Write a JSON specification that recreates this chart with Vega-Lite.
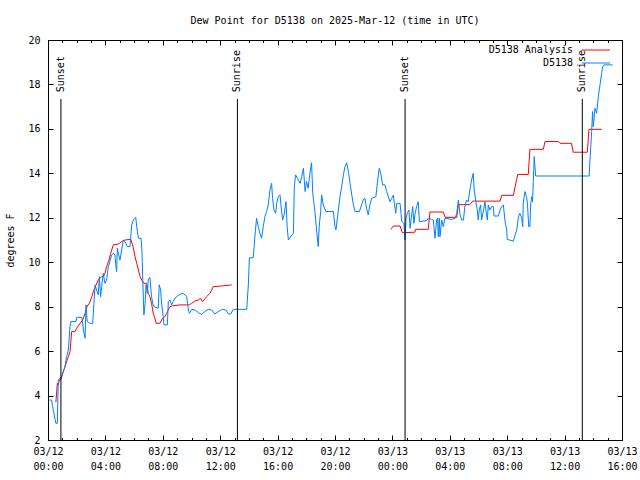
{
  "$schema": "https://vega.github.io/schema/vega-lite/v6.json",
  "width": 574,
  "height": 400,
  "autosize": {"type": "none"},
  "padding": {"left": 48, "top": 40, "right": 18, "bottom": 40},
  "background": "white",
  "title": {"text": "Dew Point for D5138 on 2025-Mar-12 (time in UTC)", "font": "DejaVu Sans Mono", "fontSize": 10, "fontWeight": "normal", "color": "black", "anchor": "middle", "offset": 9},
  "config": {
    "view": {"stroke": "black", "strokeWidth": 1},
    "axis": {"labelFont": "DejaVu Sans Mono", "labelFontSize": 10, "labelColor": "black", "tickColor": "black", "tickWidth": 1, "domain": false, "grid": false, "titleFont": "DejaVu Sans Mono", "titleFontSize": 10, "titleFontWeight": "normal", "titleColor": "black", "labelFlush": false, "labelOverlap": false}
  },
  "datasets": {
    "analysis": [
      {"part": 1, "time": "2025-03-12T00:33:00Z", "dewpoint": 3.7},
      {"part": 1, "time": "2025-03-12T00:39:00Z", "dewpoint": 4.55},
      {"part": 1, "time": "2025-03-12T00:43:00Z", "dewpoint": 4.48},
      {"part": 1, "time": "2025-03-12T00:47:00Z", "dewpoint": 4.7},
      {"part": 1, "time": "2025-03-12T00:53:00Z", "dewpoint": 4.7},
      {"part": 1, "time": "2025-03-12T00:57:00Z", "dewpoint": 4.85},
      {"part": 1, "time": "2025-03-12T01:04:00Z", "dewpoint": 5.08},
      {"part": 1, "time": "2025-03-12T01:11:00Z", "dewpoint": 5.3},
      {"part": 1, "time": "2025-03-12T01:18:00Z", "dewpoint": 5.53},
      {"part": 1, "time": "2025-03-12T01:25:00Z", "dewpoint": 5.75},
      {"part": 1, "time": "2025-03-12T01:32:00Z", "dewpoint": 5.98},
      {"part": 1, "time": "2025-03-12T01:39:00Z", "dewpoint": 6.88},
      {"part": 1, "time": "2025-03-12T01:53:00Z", "dewpoint": 6.88},
      {"part": 1, "time": "2025-03-12T02:00:00Z", "dewpoint": 7.03},
      {"part": 1, "time": "2025-03-12T02:14:00Z", "dewpoint": 7.25},
      {"part": 1, "time": "2025-03-12T02:25:00Z", "dewpoint": 7.4},
      {"part": 1, "time": "2025-03-12T02:35:00Z", "dewpoint": 7.7},
      {"part": 1, "time": "2025-03-12T02:44:00Z", "dewpoint": 8.03},
      {"part": 1, "time": "2025-03-12T02:53:00Z", "dewpoint": 8.15},
      {"part": 1, "time": "2025-03-12T03:03:00Z", "dewpoint": 8.45},
      {"part": 1, "time": "2025-03-12T03:12:00Z", "dewpoint": 8.75},
      {"part": 1, "time": "2025-03-12T03:21:00Z", "dewpoint": 8.98},
      {"part": 1, "time": "2025-03-12T03:30:00Z", "dewpoint": 9.2},
      {"part": 1, "time": "2025-03-12T03:44:00Z", "dewpoint": 9.35},
      {"part": 1, "time": "2025-03-12T03:51:00Z", "dewpoint": 9.35},
      {"part": 1, "time": "2025-03-12T03:58:00Z", "dewpoint": 9.5},
      {"part": 1, "time": "2025-03-12T04:05:00Z", "dewpoint": 9.8},
      {"part": 1, "time": "2025-03-12T04:15:00Z", "dewpoint": 10.1},
      {"part": 1, "time": "2025-03-12T04:22:00Z", "dewpoint": 10.4},
      {"part": 1, "time": "2025-03-12T04:33:00Z", "dewpoint": 10.78},
      {"part": 1, "time": "2025-03-12T04:54:00Z", "dewpoint": 10.82},
      {"part": 1, "time": "2025-03-12T05:08:00Z", "dewpoint": 10.93},
      {"part": 1, "time": "2025-03-12T05:22:00Z", "dewpoint": 11.0},
      {"part": 1, "time": "2025-03-12T05:46:00Z", "dewpoint": 11.03},
      {"part": 1, "time": "2025-03-12T05:54:00Z", "dewpoint": 10.78},
      {"part": 1, "time": "2025-03-12T06:04:00Z", "dewpoint": 10.25},
      {"part": 1, "time": "2025-03-12T06:11:00Z", "dewpoint": 9.95},
      {"part": 1, "time": "2025-03-12T06:18:00Z", "dewpoint": 9.65},
      {"part": 1, "time": "2025-03-12T06:25:00Z", "dewpoint": 9.35},
      {"part": 1, "time": "2025-03-12T06:32:00Z", "dewpoint": 9.2},
      {"part": 1, "time": "2025-03-12T06:41:00Z", "dewpoint": 9.05},
      {"part": 1, "time": "2025-03-12T06:53:00Z", "dewpoint": 9.05},
      {"part": 1, "time": "2025-03-12T06:59:00Z", "dewpoint": 8.6},
      {"part": 1, "time": "2025-03-12T07:06:00Z", "dewpoint": 8.45},
      {"part": 1, "time": "2025-03-12T07:13:00Z", "dewpoint": 8.15},
      {"part": 1, "time": "2025-03-12T07:20:00Z", "dewpoint": 7.7},
      {"part": 1, "time": "2025-03-12T07:27:00Z", "dewpoint": 7.48},
      {"part": 1, "time": "2025-03-12T07:32:00Z", "dewpoint": 7.25},
      {"part": 1, "time": "2025-03-12T07:48:00Z", "dewpoint": 7.25},
      {"part": 1, "time": "2025-03-12T07:59:00Z", "dewpoint": 7.48},
      {"part": 1, "time": "2025-03-12T08:09:00Z", "dewpoint": 7.55},
      {"part": 1, "time": "2025-03-12T08:16:00Z", "dewpoint": 7.7},
      {"part": 1, "time": "2025-03-12T08:23:00Z", "dewpoint": 7.85},
      {"part": 1, "time": "2025-03-12T08:30:00Z", "dewpoint": 8.0},
      {"part": 1, "time": "2025-03-12T08:37:00Z", "dewpoint": 8.03},
      {"part": 1, "time": "2025-03-12T09:12:00Z", "dewpoint": 8.08},
      {"part": 1, "time": "2025-03-12T09:51:00Z", "dewpoint": 8.08},
      {"part": 1, "time": "2025-03-12T10:01:00Z", "dewpoint": 8.15},
      {"part": 1, "time": "2025-03-12T10:15:00Z", "dewpoint": 8.26},
      {"part": 1, "time": "2025-03-12T10:29:00Z", "dewpoint": 8.3},
      {"part": 1, "time": "2025-03-12T10:38:00Z", "dewpoint": 8.38},
      {"part": 1, "time": "2025-03-12T10:45:00Z", "dewpoint": 8.23},
      {"part": 1, "time": "2025-03-12T10:52:00Z", "dewpoint": 8.3},
      {"part": 1, "time": "2025-03-12T11:03:00Z", "dewpoint": 8.45},
      {"part": 1, "time": "2025-03-12T11:17:00Z", "dewpoint": 8.6},
      {"part": 1, "time": "2025-03-12T11:24:00Z", "dewpoint": 8.75},
      {"part": 1, "time": "2025-03-12T11:31:00Z", "dewpoint": 8.9},
      {"part": 1, "time": "2025-03-12T12:06:00Z", "dewpoint": 8.93},
      {"part": 1, "time": "2025-03-12T12:48:00Z", "dewpoint": 8.98},
      {"part": 2, "time": "2025-03-12T23:54:00Z", "dewpoint": 11.48},
      {"part": 2, "time": "2025-03-13T00:04:00Z", "dewpoint": 11.63},
      {"part": 2, "time": "2025-03-13T00:32:00Z", "dewpoint": 11.63},
      {"part": 2, "time": "2025-03-13T00:41:00Z", "dewpoint": 11.33},
      {"part": 2, "time": "2025-03-13T01:34:00Z", "dewpoint": 11.35},
      {"part": 2, "time": "2025-03-13T01:37:00Z", "dewpoint": 11.48},
      {"part": 2, "time": "2025-03-13T02:30:00Z", "dewpoint": 11.48},
      {"part": 2, "time": "2025-03-13T02:37:00Z", "dewpoint": 12.26},
      {"part": 2, "time": "2025-03-13T03:33:00Z", "dewpoint": 12.26},
      {"part": 2, "time": "2025-03-13T03:40:00Z", "dewpoint": 12.02},
      {"part": 2, "time": "2025-03-13T04:29:00Z", "dewpoint": 12.02},
      {"part": 2, "time": "2025-03-13T04:36:00Z", "dewpoint": 12.59},
      {"part": 2, "time": "2025-03-13T05:24:00Z", "dewpoint": 12.59},
      {"part": 2, "time": "2025-03-13T05:36:00Z", "dewpoint": 12.75},
      {"part": 2, "time": "2025-03-13T07:30:00Z", "dewpoint": 12.75},
      {"part": 2, "time": "2025-03-13T07:37:00Z", "dewpoint": 13.01},
      {"part": 2, "time": "2025-03-13T08:26:00Z", "dewpoint": 13.01},
      {"part": 2, "time": "2025-03-13T08:33:00Z", "dewpoint": 13.4},
      {"part": 2, "time": "2025-03-13T08:44:00Z", "dewpoint": 13.95},
      {"part": 2, "time": "2025-03-13T09:28:00Z", "dewpoint": 13.95},
      {"part": 2, "time": "2025-03-13T09:35:00Z", "dewpoint": 15.08},
      {"part": 2, "time": "2025-03-13T10:31:00Z", "dewpoint": 15.08},
      {"part": 2, "time": "2025-03-13T10:38:00Z", "dewpoint": 15.43},
      {"part": 2, "time": "2025-03-13T11:34:00Z", "dewpoint": 15.43},
      {"part": 2, "time": "2025-03-13T11:41:00Z", "dewpoint": 15.35},
      {"part": 2, "time": "2025-03-13T12:29:00Z", "dewpoint": 15.35},
      {"part": 2, "time": "2025-03-13T12:36:00Z", "dewpoint": 14.95},
      {"part": 2, "time": "2025-03-13T13:35:00Z", "dewpoint": 14.95},
      {"part": 2, "time": "2025-03-13T13:42:00Z", "dewpoint": 15.98},
      {"part": 2, "time": "2025-03-13T14:35:00Z", "dewpoint": 15.98}
    ],
    "station": [
      {"time": "2025-03-12T00:06:00Z", "dewpoint": 3.8},
      {"time": "2025-03-12T00:15:00Z", "dewpoint": 3.8},
      {"time": "2025-03-12T00:22:00Z", "dewpoint": 3.35},
      {"time": "2025-03-12T00:33:00Z", "dewpoint": 2.75},
      {"time": "2025-03-12T00:39:00Z", "dewpoint": 2.75},
      {"time": "2025-03-12T00:43:00Z", "dewpoint": 4.7},
      {"time": "2025-03-12T00:57:00Z", "dewpoint": 4.85},
      {"time": "2025-03-12T01:11:00Z", "dewpoint": 5.3},
      {"time": "2025-03-12T01:18:00Z", "dewpoint": 5.75},
      {"time": "2025-03-12T01:25:00Z", "dewpoint": 6.05},
      {"time": "2025-03-12T01:32:00Z", "dewpoint": 7.1},
      {"time": "2025-03-12T01:36:00Z", "dewpoint": 7.33},
      {"time": "2025-03-12T01:57:00Z", "dewpoint": 7.33},
      {"time": "2025-03-12T02:00:00Z", "dewpoint": 7.52},
      {"time": "2025-03-12T02:21:00Z", "dewpoint": 7.52},
      {"time": "2025-03-12T02:25:00Z", "dewpoint": 7.25},
      {"time": "2025-03-12T02:28:00Z", "dewpoint": 6.95},
      {"time": "2025-03-12T02:35:00Z", "dewpoint": 6.58},
      {"time": "2025-03-12T02:39:00Z", "dewpoint": 8.08},
      {"time": "2025-03-12T02:44:00Z", "dewpoint": 7.33},
      {"time": "2025-03-12T02:56:00Z", "dewpoint": 7.25},
      {"time": "2025-03-12T03:07:00Z", "dewpoint": 7.25},
      {"time": "2025-03-12T03:12:00Z", "dewpoint": 8.15},
      {"time": "2025-03-12T03:17:00Z", "dewpoint": 8.98},
      {"time": "2025-03-12T03:23:00Z", "dewpoint": 8.75},
      {"time": "2025-03-12T03:30:00Z", "dewpoint": 8.53},
      {"time": "2025-03-12T03:35:00Z", "dewpoint": 9.35},
      {"time": "2025-03-12T03:40:00Z", "dewpoint": 8.45},
      {"time": "2025-03-12T03:46:00Z", "dewpoint": 9.05},
      {"time": "2025-03-12T03:51:00Z", "dewpoint": 9.5},
      {"time": "2025-03-12T03:58:00Z", "dewpoint": 9.05},
      {"time": "2025-03-12T04:05:00Z", "dewpoint": 9.2},
      {"time": "2025-03-12T04:12:00Z", "dewpoint": 9.8},
      {"time": "2025-03-12T04:19:00Z", "dewpoint": 10.03},
      {"time": "2025-03-12T04:26:00Z", "dewpoint": 10.33},
      {"time": "2025-03-12T04:33:00Z", "dewpoint": 10.4},
      {"time": "2025-03-12T04:40:00Z", "dewpoint": 10.33},
      {"time": "2025-03-12T04:44:00Z", "dewpoint": 9.8},
      {"time": "2025-03-12T04:47:00Z", "dewpoint": 9.58},
      {"time": "2025-03-12T04:50:00Z", "dewpoint": 10.63},
      {"time": "2025-03-12T04:54:00Z", "dewpoint": 10.4},
      {"time": "2025-03-12T05:01:00Z", "dewpoint": 10.1},
      {"time": "2025-03-12T05:08:00Z", "dewpoint": 10.55},
      {"time": "2025-03-12T05:15:00Z", "dewpoint": 11.0},
      {"time": "2025-03-12T05:22:00Z", "dewpoint": 10.93},
      {"time": "2025-03-12T05:32:00Z", "dewpoint": 10.7},
      {"time": "2025-03-12T05:43:00Z", "dewpoint": 10.7},
      {"time": "2025-03-12T05:46:00Z", "dewpoint": 11.15},
      {"time": "2025-03-12T05:50:00Z", "dewpoint": 11.68},
      {"time": "2025-03-12T05:57:00Z", "dewpoint": 11.9},
      {"time": "2025-03-12T06:07:00Z", "dewpoint": 12.02},
      {"time": "2025-03-12T06:11:00Z", "dewpoint": 11.6},
      {"time": "2025-03-12T06:18:00Z", "dewpoint": 11.08},
      {"time": "2025-03-12T06:29:00Z", "dewpoint": 11.08},
      {"time": "2025-03-12T06:33:00Z", "dewpoint": 10.48},
      {"time": "2025-03-12T06:36:00Z", "dewpoint": 9.28},
      {"time": "2025-03-12T06:41:00Z", "dewpoint": 7.63},
      {"time": "2025-03-12T06:46:00Z", "dewpoint": 8.15},
      {"time": "2025-03-12T06:50:00Z", "dewpoint": 8.98},
      {"time": "2025-03-12T06:55:00Z", "dewpoint": 8.6},
      {"time": "2025-03-12T06:59:00Z", "dewpoint": 9.2},
      {"time": "2025-03-12T07:06:00Z", "dewpoint": 9.32},
      {"time": "2025-03-12T07:13:00Z", "dewpoint": 8.45},
      {"time": "2025-03-12T07:18:00Z", "dewpoint": 8.15},
      {"time": "2025-03-12T07:23:00Z", "dewpoint": 8.0},
      {"time": "2025-03-12T07:41:00Z", "dewpoint": 7.93},
      {"time": "2025-03-12T07:45:00Z", "dewpoint": 8.98},
      {"time": "2025-03-12T07:51:00Z", "dewpoint": 8.75},
      {"time": "2025-03-12T07:55:00Z", "dewpoint": 8.15},
      {"time": "2025-03-12T08:02:00Z", "dewpoint": 7.55},
      {"time": "2025-03-12T08:05:00Z", "dewpoint": 7.18},
      {"time": "2025-03-12T08:19:00Z", "dewpoint": 7.18},
      {"time": "2025-03-12T08:23:00Z", "dewpoint": 8.23},
      {"time": "2025-03-12T08:30:00Z", "dewpoint": 8.3},
      {"time": "2025-03-12T08:37:00Z", "dewpoint": 8.08},
      {"time": "2025-03-12T08:44:00Z", "dewpoint": 8.23},
      {"time": "2025-03-12T08:51:00Z", "dewpoint": 8.38},
      {"time": "2025-03-12T09:01:00Z", "dewpoint": 8.48},
      {"time": "2025-03-12T09:12:00Z", "dewpoint": 8.56},
      {"time": "2025-03-12T09:23:00Z", "dewpoint": 8.6},
      {"time": "2025-03-12T09:33:00Z", "dewpoint": 8.53},
      {"time": "2025-03-12T09:40:00Z", "dewpoint": 8.45},
      {"time": "2025-03-12T09:47:00Z", "dewpoint": 7.85},
      {"time": "2025-03-12T09:51:00Z", "dewpoint": 7.7},
      {"time": "2025-03-12T10:01:00Z", "dewpoint": 7.88},
      {"time": "2025-03-12T10:15:00Z", "dewpoint": 7.85},
      {"time": "2025-03-12T10:29:00Z", "dewpoint": 7.73},
      {"time": "2025-03-12T10:42:00Z", "dewpoint": 7.65},
      {"time": "2025-03-12T10:56:00Z", "dewpoint": 7.78},
      {"time": "2025-03-12T11:10:00Z", "dewpoint": 7.88},
      {"time": "2025-03-12T11:24:00Z", "dewpoint": 7.85},
      {"time": "2025-03-12T11:38:00Z", "dewpoint": 7.67},
      {"time": "2025-03-12T11:52:00Z", "dewpoint": 7.78},
      {"time": "2025-03-12T12:10:00Z", "dewpoint": 7.88},
      {"time": "2025-03-12T12:24:00Z", "dewpoint": 7.85},
      {"time": "2025-03-12T12:34:00Z", "dewpoint": 7.67},
      {"time": "2025-03-12T12:44:00Z", "dewpoint": 7.67},
      {"time": "2025-03-12T12:55:00Z", "dewpoint": 7.88},
      {"time": "2025-03-12T13:51:00Z", "dewpoint": 7.88},
      {"time": "2025-03-12T13:58:00Z", "dewpoint": 9.05},
      {"time": "2025-03-12T14:02:00Z", "dewpoint": 10.2},
      {"time": "2025-03-12T14:18:00Z", "dewpoint": 10.2},
      {"time": "2025-03-12T14:25:00Z", "dewpoint": 11.15},
      {"time": "2025-03-12T14:32:00Z", "dewpoint": 11.98},
      {"time": "2025-03-12T14:39:00Z", "dewpoint": 11.6},
      {"time": "2025-03-12T14:46:00Z", "dewpoint": 11.3},
      {"time": "2025-03-12T14:53:00Z", "dewpoint": 11.08},
      {"time": "2025-03-12T15:00:00Z", "dewpoint": 11.6},
      {"time": "2025-03-12T15:07:00Z", "dewpoint": 12.05},
      {"time": "2025-03-12T15:14:00Z", "dewpoint": 12.28},
      {"time": "2025-03-12T15:21:00Z", "dewpoint": 12.58},
      {"time": "2025-03-12T15:28:00Z", "dewpoint": 13.25},
      {"time": "2025-03-12T15:35:00Z", "dewpoint": 13.55},
      {"time": "2025-03-12T15:39:00Z", "dewpoint": 12.88},
      {"time": "2025-03-12T15:45:00Z", "dewpoint": 12.35},
      {"time": "2025-03-12T15:52:00Z", "dewpoint": 12.2},
      {"time": "2025-03-12T15:56:00Z", "dewpoint": 12.65},
      {"time": "2025-03-12T16:03:00Z", "dewpoint": 12.95},
      {"time": "2025-03-12T16:10:00Z", "dewpoint": 13.03},
      {"time": "2025-03-12T16:14:00Z", "dewpoint": 12.58},
      {"time": "2025-03-12T16:21:00Z", "dewpoint": 11.9},
      {"time": "2025-03-12T16:27:00Z", "dewpoint": 12.13},
      {"time": "2025-03-12T16:35:00Z", "dewpoint": 12.73},
      {"time": "2025-03-12T16:40:00Z", "dewpoint": 11.6},
      {"time": "2025-03-12T16:45:00Z", "dewpoint": 11.0},
      {"time": "2025-03-12T16:59:00Z", "dewpoint": 11.23},
      {"time": "2025-03-12T17:06:00Z", "dewpoint": 11.3},
      {"time": "2025-03-12T17:10:00Z", "dewpoint": 13.4},
      {"time": "2025-03-12T17:15:00Z", "dewpoint": 13.93},
      {"time": "2025-03-12T17:27:00Z", "dewpoint": 13.7},
      {"time": "2025-03-12T17:34:00Z", "dewpoint": 13.55},
      {"time": "2025-03-12T17:41:00Z", "dewpoint": 13.85},
      {"time": "2025-03-12T17:48:00Z", "dewpoint": 14.23},
      {"time": "2025-03-12T17:55:00Z", "dewpoint": 13.18},
      {"time": "2025-03-12T18:01:00Z", "dewpoint": 13.63},
      {"time": "2025-03-12T18:08:00Z", "dewpoint": 13.33},
      {"time": "2025-03-12T18:15:00Z", "dewpoint": 14.0},
      {"time": "2025-03-12T18:22:00Z", "dewpoint": 14.48},
      {"time": "2025-03-12T18:27:00Z", "dewpoint": 13.1},
      {"time": "2025-03-12T18:36:00Z", "dewpoint": 12.28},
      {"time": "2025-03-12T18:43:00Z", "dewpoint": 11.45},
      {"time": "2025-03-12T18:50:00Z", "dewpoint": 10.7},
      {"time": "2025-03-12T18:54:00Z", "dewpoint": 11.6},
      {"time": "2025-03-12T19:00:00Z", "dewpoint": 12.28},
      {"time": "2025-03-12T19:04:00Z", "dewpoint": 13.03},
      {"time": "2025-03-12T19:11:00Z", "dewpoint": 12.58},
      {"time": "2025-03-12T19:22:00Z", "dewpoint": 12.28},
      {"time": "2025-03-12T19:53:00Z", "dewpoint": 12.28},
      {"time": "2025-03-12T20:00:00Z", "dewpoint": 11.6},
      {"time": "2025-03-12T20:04:00Z", "dewpoint": 11.45},
      {"time": "2025-03-12T20:10:00Z", "dewpoint": 11.98},
      {"time": "2025-03-12T20:14:00Z", "dewpoint": 12.35},
      {"time": "2025-03-12T20:21:00Z", "dewpoint": 12.95},
      {"time": "2025-03-12T20:28:00Z", "dewpoint": 13.4},
      {"time": "2025-03-12T20:35:00Z", "dewpoint": 13.93},
      {"time": "2025-03-12T20:42:00Z", "dewpoint": 14.3},
      {"time": "2025-03-12T20:49:00Z", "dewpoint": 14.48},
      {"time": "2025-03-12T20:56:00Z", "dewpoint": 14.08},
      {"time": "2025-03-12T21:03:00Z", "dewpoint": 13.55},
      {"time": "2025-03-12T21:10:00Z", "dewpoint": 13.03},
      {"time": "2025-03-12T21:17:00Z", "dewpoint": 12.58},
      {"time": "2025-03-12T21:24:00Z", "dewpoint": 12.28},
      {"time": "2025-03-12T21:42:00Z", "dewpoint": 12.28},
      {"time": "2025-03-12T21:51:00Z", "dewpoint": 12.58},
      {"time": "2025-03-12T21:58:00Z", "dewpoint": 12.8},
      {"time": "2025-03-12T22:05:00Z", "dewpoint": 12.88},
      {"time": "2025-03-12T22:12:00Z", "dewpoint": 12.43},
      {"time": "2025-03-12T22:19:00Z", "dewpoint": 12.13},
      {"time": "2025-03-12T22:26:00Z", "dewpoint": 12.58},
      {"time": "2025-03-12T22:33:00Z", "dewpoint": 12.88},
      {"time": "2025-03-12T22:51:00Z", "dewpoint": 12.95},
      {"time": "2025-03-12T22:57:00Z", "dewpoint": 13.55},
      {"time": "2025-03-12T23:05:00Z", "dewpoint": 14.23},
      {"time": "2025-03-12T23:11:00Z", "dewpoint": 14.0},
      {"time": "2025-03-12T23:19:00Z", "dewpoint": 13.48},
      {"time": "2025-03-12T23:29:00Z", "dewpoint": 13.48},
      {"time": "2025-03-12T23:36:00Z", "dewpoint": 13.18},
      {"time": "2025-03-12T23:43:00Z", "dewpoint": 12.95},
      {"time": "2025-03-12T23:50:00Z", "dewpoint": 12.72},
      {"time": "2025-03-12T23:57:00Z", "dewpoint": 12.87},
      {"time": "2025-03-13T00:04:00Z", "dewpoint": 13.02},
      {"time": "2025-03-13T00:08:00Z", "dewpoint": 12.65},
      {"time": "2025-03-13T00:14:00Z", "dewpoint": 12.2},
      {"time": "2025-03-13T00:18:00Z", "dewpoint": 12.65},
      {"time": "2025-03-13T00:32:00Z", "dewpoint": 12.65},
      {"time": "2025-03-13T00:36:00Z", "dewpoint": 12.2},
      {"time": "2025-03-13T00:39:00Z", "dewpoint": 11.83},
      {"time": "2025-03-13T00:48:00Z", "dewpoint": 11.75},
      {"time": "2025-03-13T00:53:00Z", "dewpoint": 11.0},
      {"time": "2025-03-13T00:57:00Z", "dewpoint": 11.98},
      {"time": "2025-03-13T01:02:00Z", "dewpoint": 12.2},
      {"time": "2025-03-13T01:09:00Z", "dewpoint": 12.35},
      {"time": "2025-03-13T01:14:00Z", "dewpoint": 11.53},
      {"time": "2025-03-13T01:18:00Z", "dewpoint": 11.9},
      {"time": "2025-03-13T01:25:00Z", "dewpoint": 12.5},
      {"time": "2025-03-13T01:30:00Z", "dewpoint": 11.75},
      {"time": "2025-03-13T01:34:00Z", "dewpoint": 12.13},
      {"time": "2025-03-13T01:41:00Z", "dewpoint": 12.5},
      {"time": "2025-03-13T01:48:00Z", "dewpoint": 12.72},
      {"time": "2025-03-13T01:53:00Z", "dewpoint": 11.83},
      {"time": "2025-03-13T02:23:00Z", "dewpoint": 11.87},
      {"time": "2025-03-13T02:30:00Z", "dewpoint": 11.98},
      {"time": "2025-03-13T02:44:00Z", "dewpoint": 11.93},
      {"time": "2025-03-13T02:51:00Z", "dewpoint": 11.9},
      {"time": "2025-03-13T02:58:00Z", "dewpoint": 11.08},
      {"time": "2025-03-13T03:05:00Z", "dewpoint": 11.9},
      {"time": "2025-03-13T03:09:00Z", "dewpoint": 11.98},
      {"time": "2025-03-13T03:12:00Z", "dewpoint": 11.15},
      {"time": "2025-03-13T03:16:00Z", "dewpoint": 11.98},
      {"time": "2025-03-13T03:19:00Z", "dewpoint": 11.15},
      {"time": "2025-03-13T03:26:00Z", "dewpoint": 11.9},
      {"time": "2025-03-13T03:33:00Z", "dewpoint": 11.6},
      {"time": "2025-03-13T03:40:00Z", "dewpoint": 11.98},
      {"time": "2025-03-13T04:08:00Z", "dewpoint": 11.93},
      {"time": "2025-03-13T04:22:00Z", "dewpoint": 11.98},
      {"time": "2025-03-13T04:29:00Z", "dewpoint": 12.2},
      {"time": "2025-03-13T04:36:00Z", "dewpoint": 12.8},
      {"time": "2025-03-13T04:43:00Z", "dewpoint": 12.13},
      {"time": "2025-03-13T04:50:00Z", "dewpoint": 11.9},
      {"time": "2025-03-13T04:57:00Z", "dewpoint": 11.9},
      {"time": "2025-03-13T05:03:00Z", "dewpoint": 12.5},
      {"time": "2025-03-13T05:10:00Z", "dewpoint": 12.8},
      {"time": "2025-03-13T05:17:00Z", "dewpoint": 12.72},
      {"time": "2025-03-13T05:24:00Z", "dewpoint": 13.25},
      {"time": "2025-03-13T05:31:00Z", "dewpoint": 13.7},
      {"time": "2025-03-13T05:38:00Z", "dewpoint": 14.0},
      {"time": "2025-03-13T05:42:00Z", "dewpoint": 13.25},
      {"time": "2025-03-13T05:49:00Z", "dewpoint": 12.72},
      {"time": "2025-03-13T05:55:00Z", "dewpoint": 12.35},
      {"time": "2025-03-13T05:59:00Z", "dewpoint": 11.9},
      {"time": "2025-03-13T06:03:00Z", "dewpoint": 12.35},
      {"time": "2025-03-13T06:09:00Z", "dewpoint": 12.58},
      {"time": "2025-03-13T06:13:00Z", "dewpoint": 11.9},
      {"time": "2025-03-13T06:20:00Z", "dewpoint": 12.28},
      {"time": "2025-03-13T06:27:00Z", "dewpoint": 12.72},
      {"time": "2025-03-13T06:31:00Z", "dewpoint": 12.35},
      {"time": "2025-03-13T06:37:00Z", "dewpoint": 11.9},
      {"time": "2025-03-13T06:41:00Z", "dewpoint": 12.58},
      {"time": "2025-03-13T06:48:00Z", "dewpoint": 12.35},
      {"time": "2025-03-13T06:55:00Z", "dewpoint": 12.5},
      {"time": "2025-03-13T07:02:00Z", "dewpoint": 12.5},
      {"time": "2025-03-13T07:05:00Z", "dewpoint": 12.08},
      {"time": "2025-03-13T07:23:00Z", "dewpoint": 12.08},
      {"time": "2025-03-13T07:30:00Z", "dewpoint": 12.35},
      {"time": "2025-03-13T07:37:00Z", "dewpoint": 12.5},
      {"time": "2025-03-13T07:44:00Z", "dewpoint": 12.58},
      {"time": "2025-03-13T07:51:00Z", "dewpoint": 11.83},
      {"time": "2025-03-13T07:58:00Z", "dewpoint": 11.45},
      {"time": "2025-03-13T08:00:00Z", "dewpoint": 11.03},
      {"time": "2025-03-13T08:26:00Z", "dewpoint": 10.95},
      {"time": "2025-03-13T08:33:00Z", "dewpoint": 11.23},
      {"time": "2025-03-13T08:40:00Z", "dewpoint": 11.45},
      {"time": "2025-03-13T08:47:00Z", "dewpoint": 12.05},
      {"time": "2025-03-13T08:53:00Z", "dewpoint": 12.2},
      {"time": "2025-03-13T09:00:00Z", "dewpoint": 12.03},
      {"time": "2025-03-13T09:05:00Z", "dewpoint": 11.6},
      {"time": "2025-03-13T09:07:00Z", "dewpoint": 12.65},
      {"time": "2025-03-13T09:14:00Z", "dewpoint": 13.18},
      {"time": "2025-03-13T09:21:00Z", "dewpoint": 12.95},
      {"time": "2025-03-13T09:25:00Z", "dewpoint": 12.58},
      {"time": "2025-03-13T09:30:00Z", "dewpoint": 11.6},
      {"time": "2025-03-13T09:35:00Z", "dewpoint": 11.6},
      {"time": "2025-03-13T09:38:00Z", "dewpoint": 12.58},
      {"time": "2025-03-13T09:42:00Z", "dewpoint": 12.95},
      {"time": "2025-03-13T09:46:00Z", "dewpoint": 12.72},
      {"time": "2025-03-13T09:49:00Z", "dewpoint": 13.63},
      {"time": "2025-03-13T09:53:00Z", "dewpoint": 14.75},
      {"time": "2025-03-13T09:56:00Z", "dewpoint": 14.3},
      {"time": "2025-03-13T09:59:00Z", "dewpoint": 13.88},
      {"time": "2025-03-13T13:43:00Z", "dewpoint": 13.88},
      {"time": "2025-03-13T13:46:00Z", "dewpoint": 14.6},
      {"time": "2025-03-13T13:50:00Z", "dewpoint": 15.3},
      {"time": "2025-03-13T13:53:00Z", "dewpoint": 15.88},
      {"time": "2025-03-13T13:57:00Z", "dewpoint": 16.78},
      {"time": "2025-03-13T14:00:00Z", "dewpoint": 16.1},
      {"time": "2025-03-13T14:07:00Z", "dewpoint": 16.93},
      {"time": "2025-03-13T14:14:00Z", "dewpoint": 16.7},
      {"time": "2025-03-13T14:21:00Z", "dewpoint": 17.45},
      {"time": "2025-03-13T14:28:00Z", "dewpoint": 17.98},
      {"time": "2025-03-13T14:35:00Z", "dewpoint": 18.5},
      {"time": "2025-03-13T14:39:00Z", "dewpoint": 18.8},
      {"time": "2025-03-13T14:45:00Z", "dewpoint": 18.88},
      {"time": "2025-03-13T15:21:00Z", "dewpoint": 18.88}
    ],
    "sun": [
      {"event": "Sunset", "time": "2025-03-12T00:54:00Z"},
      {"event": "Sunrise", "time": "2025-03-12T13:12:00Z"},
      {"event": "Sunset", "time": "2025-03-13T00:53:00Z"},
      {"event": "Sunrise", "time": "2025-03-13T13:14:00Z"}
    ]
  },
  "resolve": {"axis": {"x": "independent", "y": "independent"}},
  "layer": [
    {
      "data": {"name": "analysis"},
      "mark": {"type": "line", "strokeWidth": 1, "interpolate": "linear"},
      "encoding": {
        "x": {"field": "time", "type": "temporal",
          "scale": {"type": "utc", "nice": false, "domain": [1741737600000, 1741881600000]},
          "axis": {"orient": "bottom", "title": null, "values": [1741737600000, 1741752000000, 1741766400000, 1741780800000, 1741795200000, 1741809600000, 1741824000000, 1741838400000, 1741852800000, 1741867200000, 1741881600000], "tickSize": -5, "labelPadding": 11, "labelLineHeight": 15, "labelExpr": "[utcFormat(datum.value, '%m/%d'), utcFormat(datum.value, '%H:%M')]"}},
        "y": {"field": "dewpoint", "type": "quantitative",
          "scale": {"domain": [2, 20], "nice": false, "zero": false},
          "axis": {"orient": "left", "title": "degrees F", "titlePadding": 12, "values": [2, 4, 6, 8, 10, 12, 14, 16, 18, 20], "tickSize": -5, "labelPadding": 13}},
        "detail": {"field": "part", "type": "nominal"},
        "color": {"datum": "D5138 Analysis",
          "scale": {"domain": ["D5138 Analysis", "D5138"], "range": ["#ff0000", "#0080ff"]},
          "legend": {"orient": "none", "legendX": 543, "legendY": 5, "title": null, "symbolType": "M-4,0H4", "symbolSize": 49, "symbolStrokeWidth": 1, "labelAlign": "right", "labelOffset": -28, "labelFont": "DejaVu Sans Mono", "labelFontSize": 10, "labelColor": "black", "rowPadding": 3, "padding": 0, "labelLimit": 0, "labelExpr": "pad(datum.label, 14, '\u00a0', 'left')"}}
      }
    },
    {
      "data": {"name": "station"},
      "mark": {"type": "line", "strokeWidth": 1, "interpolate": "linear"},
      "encoding": {
        "x": {"field": "time", "type": "temporal",
          "axis": {"orient": "top", "title": null, "labels": false, "values": [1741737600000, 1741752000000, 1741766400000, 1741780800000, 1741795200000, 1741809600000, 1741824000000, 1741838400000, 1741852800000, 1741867200000, 1741881600000], "tickSize": -5}},
        "y": {"field": "dewpoint", "type": "quantitative",
          "axis": {"orient": "right", "title": null, "labels": false, "values": [2, 4, 6, 8, 10, 12, 14, 16, 18, 20], "tickSize": -5}},
        "color": {"datum": "D5138"}
      }
    },
    {
      "data": {"name": "sun"},
      "mark": {"type": "rule", "color": "black", "strokeWidth": 1},
      "encoding": {
        "x": {"field": "time", "type": "temporal",
          "axis": {"orient": "bottom", "title": null, "labels": false, "values": [1741737600000, 1741741200000, 1741744800000, 1741748400000, 1741752000000, 1741755600000, 1741759200000, 1741762800000, 1741766400000, 1741770000000, 1741773600000, 1741777200000, 1741780800000, 1741784400000, 1741788000000, 1741791600000, 1741795200000, 1741798800000, 1741802400000, 1741806000000, 1741809600000, 1741813200000, 1741816800000, 1741820400000, 1741824000000, 1741827600000, 1741831200000, 1741834800000, 1741838400000, 1741842000000, 1741845600000, 1741849200000, 1741852800000, 1741856400000, 1741860000000, 1741863600000, 1741867200000, 1741870800000, 1741874400000, 1741878000000, 1741881600000], "tickSize": -2.5}},
        "y": {"datum": 17.35, "type": "quantitative", "axis": null},
        "y2": {"datum": 2}
      }
    },
    {
      "data": {"name": "sun"},
      "mark": {"type": "text", "angle": 270, "align": "left", "baseline": "middle", "font": "DejaVu Sans Mono", "fontSize": 10, "color": "black"},
      "encoding": {
        "x": {"field": "time", "type": "temporal",
          "axis": {"orient": "top", "title": null, "labels": false, "values": [1741737600000, 1741741200000, 1741744800000, 1741748400000, 1741752000000, 1741755600000, 1741759200000, 1741762800000, 1741766400000, 1741770000000, 1741773600000, 1741777200000, 1741780800000, 1741784400000, 1741788000000, 1741791600000, 1741795200000, 1741798800000, 1741802400000, 1741806000000, 1741809600000, 1741813200000, 1741816800000, 1741820400000, 1741824000000, 1741827600000, 1741831200000, 1741834800000, 1741838400000, 1741842000000, 1741845600000, 1741849200000, 1741852800000, 1741856400000, 1741860000000, 1741863600000, 1741867200000, 1741870800000, 1741874400000, 1741878000000, 1741881600000], "tickSize": -2.5}},
        "y": {"datum": 17.65, "type": "quantitative", "axis": null},
        "text": {"field": "event"}
      }
    }
  ]
}
